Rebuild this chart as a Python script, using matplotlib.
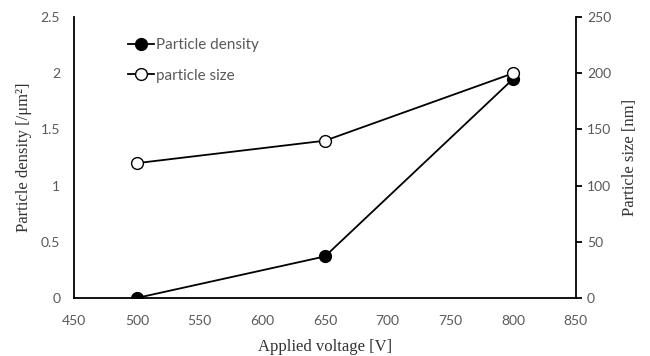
import matplotlib.pyplot as plt

voltage = [500, 650, 800]
density = [0.0, 0.37, 1.95]
size_nm = [120, 140, 200]

x_ticks = [450, 500, 550, 600, 650, 700, 750, 800, 850]
left_ticks = [0, 0.5, 1, 1.5, 2, 2.5]
right_ticks = [0, 50, 100, 150, 200, 250]

tick_color = "#595959"
tick_font = "Lato"
label_font = "Liberation Serif"

fig = plt.figure(figsize=(6.5, 3.56), dpi=100)
ax = fig.add_axes([0.114, 0.163, 0.772, 0.789])
ax2 = ax.twinx()

l1, = ax.plot(voltage, density, color="black", lw=1.3, marker="o", markersize=8.5,
              markerfacecolor="black", markeredgecolor="black", label="Particle density", zorder=3)
l2, = ax2.plot(voltage, size_nm, color="black", lw=1.3, marker="o", markersize=8.5,
               markerfacecolor="white", markeredgecolor="black", label="particle size", zorder=3)

ax.set_xlim(450, 850)
ax.set_ylim(0, 2.5)
ax2.set_ylim(0, 250)
ax.set_xticks(x_ticks)
ax.set_yticks(left_ticks)
ax.set_yticklabels([f"{v:g}" for v in left_ticks])
ax2.set_yticks(right_ticks)

for a in (ax, ax2):
    a.spines["top"].set_visible(False)
    for s in a.spines.values():
        s.set_linewidth(1.3)
ax.spines["right"].set_visible(False)
ax2.spines["left"].set_visible(False)
ax2.spines["bottom"].set_visible(False)

ax.tick_params(axis="x", length=0, pad=12, labelsize=10, labelcolor=tick_color)
ax.tick_params(axis="y", length=0, pad=10, labelsize=10, labelcolor=tick_color)
ax2.tick_params(axis="y", length=4, width=1.3, pad=4, labelsize=10, labelcolor=tick_color)
for lab in ax.get_xticklabels() + ax.get_yticklabels() + ax2.get_yticklabels():
    lab.set_fontfamily(tick_font)

ax.set_xlabel("Applied voltage [V]", fontfamily=label_font, fontsize=12, color="#333333", labelpad=9)
ax.set_ylabel("Particle density [/\u03bcm\u00b2]", fontfamily=label_font, fontsize=12, color="#333333", labelpad=6)
ax2.set_ylabel("Particle size [nm]", fontfamily=label_font, fontsize=12, color="#333333", labelpad=8)

leg = ax.legend(handles=[l1, l2], loc="upper left", bbox_to_anchor=(0.08, 0.975), frameon=False,
                handlelength=1.7, handletextpad=0.15, labelspacing=1.1,
                prop={"family": tick_font, "size": 11})
for t in leg.get_texts():
    t.set_color(tick_color)

fig.savefig("out.png", dpi=100)
